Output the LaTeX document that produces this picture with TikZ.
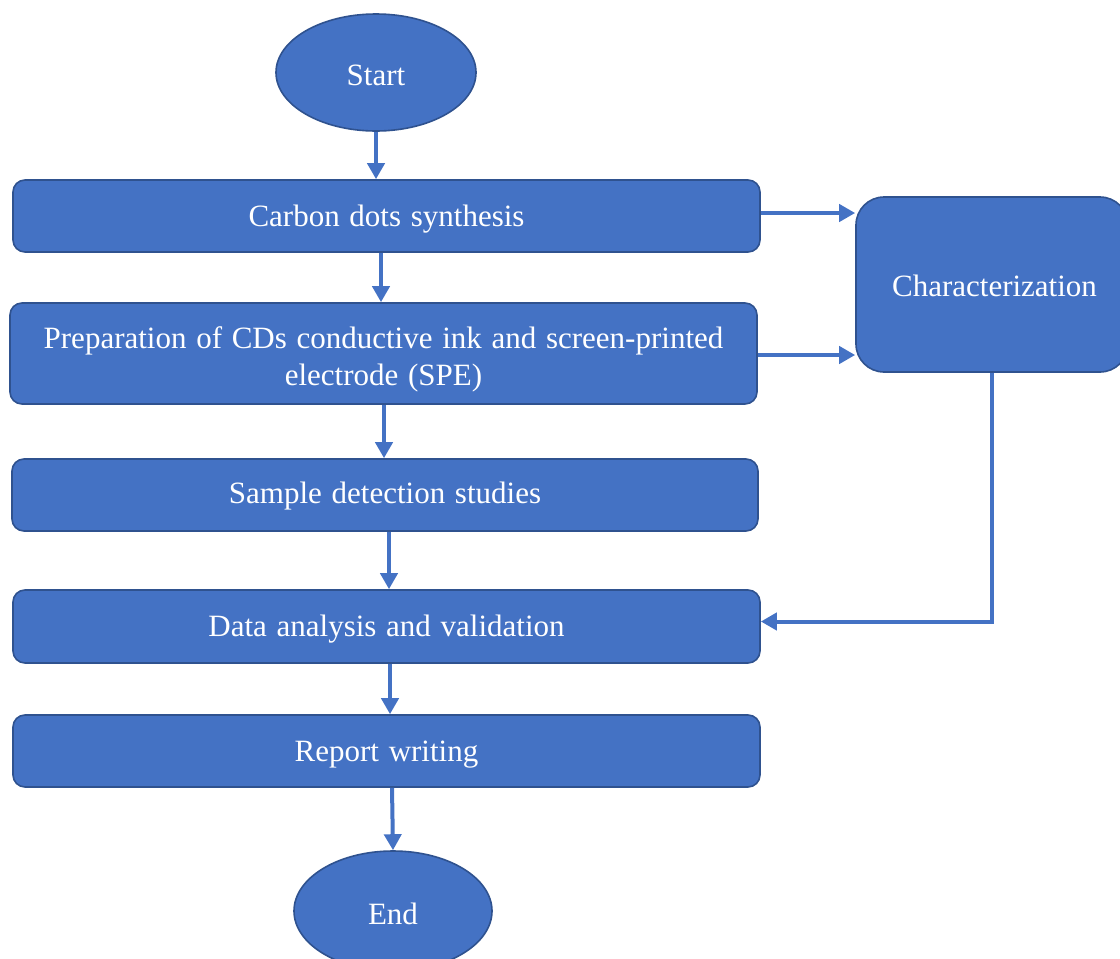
\documentclass[tikz,border=0pt]{standalone}
\usepackage{fontspec}
\setmainfont[WordSpace=1.25]{Liberation Serif}
\usetikzlibrary{arrows.meta,calc,shapes.geometric}
\definecolor{fillblue}{HTML}{4472C4}
\definecolor{edgeblue}{HTML}{2F528F}
\tikzset{
  x=1pt,y=-1pt,
  boxbase/.style={draw=edgeblue,line width=1.6pt,fill=fillblue,text=white,
    inner sep=0pt,font=\fontsize{31}{37}\selectfont},
  stepbox/.style={boxbase,rounded corners=12pt,text height=27pt,text depth=7pt},
  term/.style={boxbase,ellipse,text height=33pt,text depth=7pt},
  arr/.style={draw=fillblue,line width=4pt,-{Triangle[length=16pt,width=17pt]}}
}
\begin{document}
\begin{tikzpicture}
\useasboundingbox (0,0) rectangle (1120,959);
\clip (0,0) rectangle (1120,959);
\node[term,minimum width=200pt,minimum height=117pt] (start) at (376,72.5) {Start};
\node[stepbox,minimum width=747pt,minimum height=72pt] (carbon) at (386.5,216) {Carbon dots synthesis};
\node[boxbase,rounded corners=12pt,minimum width=747pt,minimum height=101pt] (prep) at (383.5,353.5)
  {\raisebox{5.5pt}[0pt][0pt]{\begin{tabular}[t]{@{}c@{}}Preparation of CDs conductive ink and screen-printed\\electrode (SPE)\end{tabular}}};
\node[stepbox,text height=24pt,minimum width=746pt,minimum height=72pt] (sample) at (385,495) {Sample detection studies};
\node[stepbox,minimum width=747pt,minimum height=73pt] (data) at (386.5,626.5) {Data analysis and validation};
\node[stepbox,minimum width=747pt,minimum height=72pt] (report) at (386.5,751) {Report writing};
\node[term,minimum width=198pt,minimum height=120pt] (end) at (393,911) {End};
\node[stepbox,text height=31pt,rounded corners=28pt,minimum width=272pt,minimum height=175pt] (char) at (992,284.5) {\hspace*{5pt}Characterization};
% vertical arrows
\draw[arr] (start.south) -- (start.south |- carbon.north);
\draw[arr] ([xshift=-5.5pt]carbon.south) -- ([xshift=-5.5pt]carbon.south |- prep.north);
\draw[arr] ([xshift=0.5pt]prep.south) -- ([xshift=0.5pt]prep.south |- sample.north);
\draw[arr] ([xshift=4pt]sample.south) -- ([xshift=4pt]sample.south |- data.north);
\draw[arr] ([xshift=3.5pt]data.south) -- ([xshift=3.5pt]data.south |- report.north);
\draw[arr] ([xshift=5.5pt]report.south) -- (end.north);
% to characterization
\draw[arr] ([yshift=3pt]carbon.east) -- ([yshift=3pt]carbon.east -| char.west);
\draw[arr] ([yshift=-1.5pt]prep.east) -- ([yshift=-1.5pt]prep.east -| char.west);
% back to data
\draw[arr] (char.south) |- ([yshift=5pt]data.east);
\end{tikzpicture}
\end{document}
